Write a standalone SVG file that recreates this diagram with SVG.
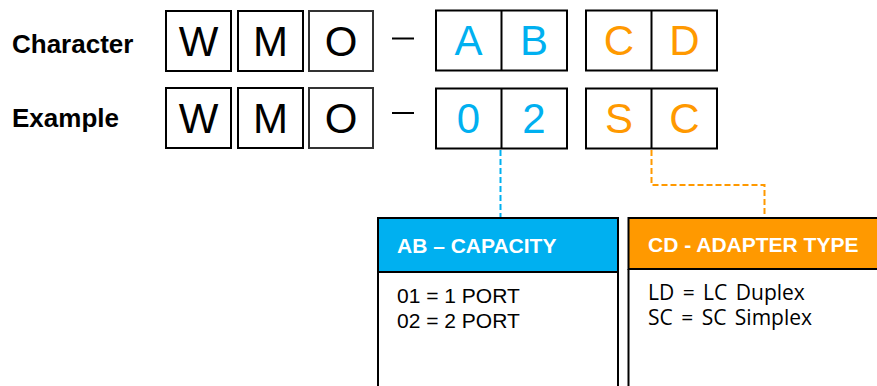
<svg xmlns="http://www.w3.org/2000/svg" width="877" height="386" viewBox="0 0 877 386">
<style>
.lbl{font-family:"Liberation Sans",Arial,sans-serif;font-weight:bold;font-size:26px;fill:#000}
.box{fill:#fff;stroke:#000;stroke-width:2}
.ch{font-family:"Liberation Sans",Arial,sans-serif;font-size:42px;text-anchor:middle}
.k{fill:#000}
.b{fill:#00B0F0}
.o{fill:#FF9900}
.hd{font-family:"Liberation Sans",Arial,sans-serif;font-weight:bold;font-size:21px;fill:#fff}
.t1{font-family:"Liberation Sans",Arial,sans-serif;font-size:21px;fill:#000}
.t2{font-family:"Open Sans","Noto Sans",sans-serif;font-size:21px;word-spacing:3px;fill:#000}
.dash{stroke:#000;stroke-width:2}
.con{fill:none;stroke-width:2;stroke-dasharray:6 3}
</style>
<rect width="877" height="386" fill="#fff"/>
<g id="labels">
<text class="lbl" x="12" y="53">Character</text>
<text class="lbl" x="12" y="127">Example</text>
</g>
<g id="row1">
<rect class="box" x="166" y="11" width="65" height="60"/>
<rect class="box" x="238" y="11" width="65" height="60"/>
<rect class="box" x="309" y="11" width="64" height="60" style="stroke:#333"/>
<text class="ch k" x="198.5" y="56">W</text>
<text class="ch k" x="270.5" y="56">M</text>
<text class="ch k" x="341" y="56">O</text>
<line class="dash" x1="392" y1="38.5" x2="414" y2="38.5"/>
<rect class="box" x="436" y="10.5" width="131" height="60"/>
<line class="dash" x1="501.5" y1="10.5" x2="501.5" y2="70.5"/>
<text class="ch b" x="468.5" y="55">A</text>
<text class="ch b" x="534" y="55">B</text>
<rect class="box" x="586" y="10.5" width="131" height="60"/>
<line class="dash" x1="651.5" y1="10.5" x2="651.5" y2="70.5"/>
<text class="ch o" x="619" y="55">C</text>
<text class="ch o" x="684.5" y="55">D</text>
</g>
<g id="row2">
<rect class="box" x="166" y="88" width="65" height="60"/>
<rect class="box" x="238" y="88" width="65" height="60"/>
<rect class="box" x="309" y="88" width="64" height="60" style="stroke:#333"/>
<text class="ch k" x="198.5" y="133">W</text>
<text class="ch k" x="270.5" y="133">M</text>
<text class="ch k" x="341" y="133">O</text>
<line class="dash" x1="392" y1="113" x2="414" y2="113"/>
<rect class="box" x="436" y="88.5" width="131" height="60"/>
<line class="dash" x1="501.5" y1="88.5" x2="501.5" y2="148.5"/>
<text class="ch b" x="468.5" y="133">0</text>
<text class="ch b" x="534" y="133">2</text>
<rect class="box" x="586" y="88.5" width="131" height="60"/>
<line class="dash" x1="651.5" y1="88.5" x2="651.5" y2="148.5"/>
<text class="ch o" x="619" y="133">S</text>
<text class="ch o" x="684.5" y="133">C</text>
</g>
<g id="connectors">
<path class="con" stroke="#00B0F0" d="M500.5 150 V218"/>
<path class="con" stroke="#FF9900" d="M651.5 150 V185 H764.5 V218"/>
</g>
<g id="capacity">
<rect x="378" y="218" width="240" height="54" fill="#00B0F0" stroke="#000" stroke-width="2"/>
<path d="M378 272 V390 M618 272 V390" stroke="#000" stroke-width="2" fill="none"/>
<text class="hd" x="397" y="253">AB – CAPACITY</text>
<text class="t1" x="397" y="303">01 = 1 PORT</text>
<text class="t1" x="397" y="327.5">02 = 2 PORT</text>
</g>
<g id="adapter">
<rect x="628.5" y="218" width="260" height="51" fill="#FF9900" stroke="#000" stroke-width="2"/>
<path d="M628.5 269 V390" stroke="#000" stroke-width="2" fill="none"/>
<text class="hd" x="648" y="252">CD - ADAPTER TYPE</text>
<text class="t2" x="648" y="300">LD = LC Duplex</text>
<text class="t2" x="648" y="325">SC = SC Simplex</text>
</g>
</svg>
